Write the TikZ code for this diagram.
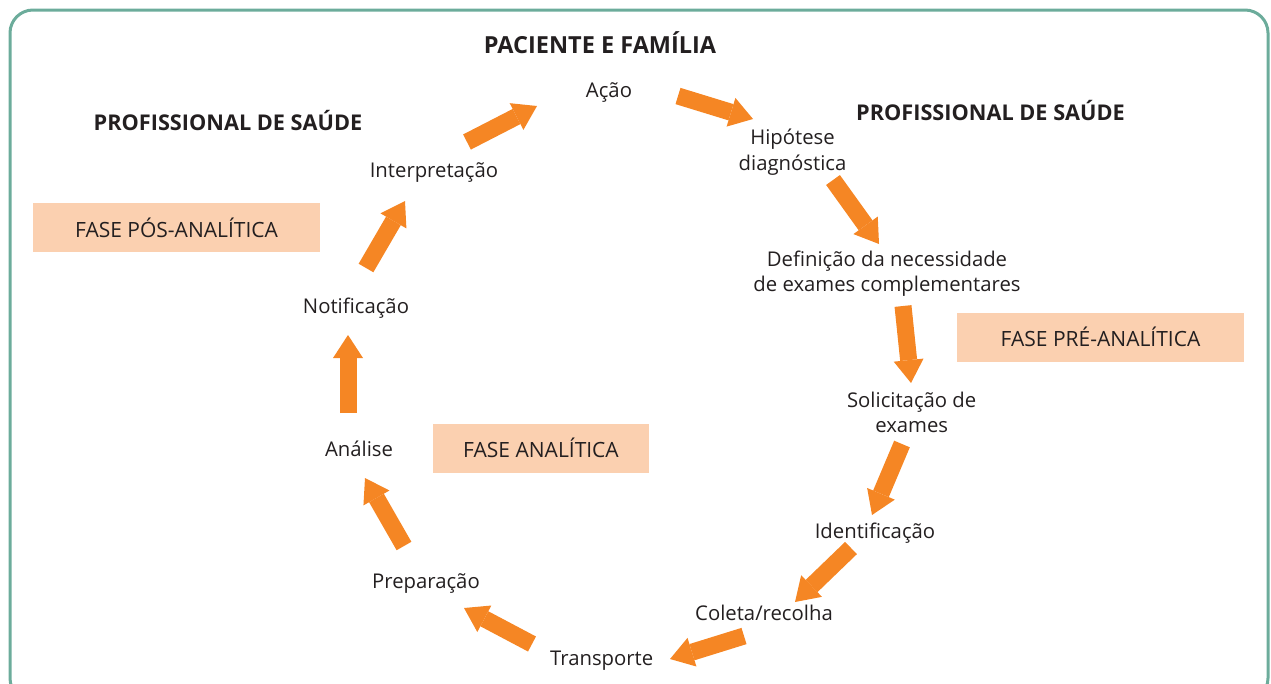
\documentclass[tikz,border=0pt]{standalone}
\usepackage{fontspec}
\setmainfont{Open Sans}
\usetikzlibrary{arrows.meta}
\definecolor{arrowc}{RGB}{245,134,36}
\definecolor{phasec}{RGB}{251,208,176}
\definecolor{framec}{RGB}{108,172,155}
\definecolor{textc}{RGB}{35,31,32}
\tikzset{
  lbl/.style={anchor=base, inner sep=0pt, text=textc, font=\fontsize{20.3}{25.5}\selectfont, align=center},
  head/.style={anchor=base, inner sep=0pt, text=textc, font=\fontsize{21.7}{24}\selectfont\bfseries},
  phase/.style={fill=phasec, inner sep=0pt, text=textc, font=\fontsize{21}{24}\selectfont},
  flow/.style={draw=arrowc, line width=17pt, -{Triangle[length=23pt,width=30pt,line width=0pt]}}
}
\begin{document}
\begin{tikzpicture}[x=1pt,y=-1pt]
\useasboundingbox (0,0) rectangle (1271,683);
\begin{scope}
\clip (0,0) rectangle (1271,683);
\draw[framec, line width=3pt, rounded corners=23pt] (10,10) rectangle (1268,701);
\end{scope}

% headings
\node[head, font=\fontsize{23.5}{26}\selectfont\bfseries] (pac) at (600,53) {PACIENTE E FAMÍLIA};
\node[head] (profL) at (228,130) {PROFISSIONAL DE SAÚDE};
\node[head] (profR) at (990.5,120) {PROFISSIONAL DE SAÚDE};

% phase boxes
\node[phase, minimum width=287pt, minimum height=49pt] (pos) at (176.5,227.5) {FASE PÓS-ANALÍTICA};
\node[phase, minimum width=287pt, minimum height=49pt] (pre) at (1100.5,337.2) {FASE PRÉ-ANALÍTICA};
\node[phase, minimum width=216pt, minimum height=49pt] (ana) at (541,448) {FASE ANALÍTICA};

% step labels (anchor = baseline of last line)
\node[lbl] (acao) at (609,97) {Ação};
\node[lbl] (hip) at (792.5,170) {Hipótese\\diagnóstica};
\node[lbl] (def) at (887,291.7) {Definição da necessidade\\de exames complementares};
\node[lbl] (sol) at (911.7,432.7) {Solicitação de\\exames};
\node[lbl] (ide) at (875,538) {Identificação};
\node[lbl] (col) at (764,620.7) {Coleta/recolha};
\node[lbl] (tra) at (601.7,665) {Transporte};
\node[lbl] (pre2) at (426,588) {Preparação};
\node[lbl] (anl) at (359,456.7) {Análise};
\node[lbl] (not) at (356,313) {Notificação};
\node[lbl] (int) at (434,177) {Interpretação};

% arrow end points
\coordinate (a1s) at (678,96);   \coordinate (a1e) at (753,119);
\coordinate (a2s) at (833,180);  \coordinate (a2e) at (879,244);
\coordinate (a3s) at (903,306);  \coordinate (a3e) at (911,383);
\coordinate (a4s) at (902,444);  \coordinate (a4e) at (872,515);
\coordinate (a5s) at (851,548);  \coordinate (a5e) at (795,602);
\coordinate (a6s) at (744,636);  \coordinate (a6e) at (670,659);
\coordinate (a7s) at (532,644);  \coordinate (a7e) at (464,608);
\coordinate (a8s) at (404,546);  \coordinate (a8e) at (365,478);
\coordinate (a9s) at (348,413);  \coordinate (a9e) at (348,335);
\coordinate (a10s) at (366,268); \coordinate (a10e) at (405,201);
\coordinate (a11s) at (467,142); \coordinate (a11e) at (537,106);

\draw[flow] (a1s) -- (a1e);
\draw[flow] (a2s) -- (a2e);
\draw[flow] (a3s) -- (a3e);
\draw[flow] (a4s) -- (a4e);
\draw[flow] (a5s) -- (a5e);
\draw[flow] (a6s) -- (a6e);
\draw[flow] (a7s) -- (a7e);
\draw[flow] (a8s) -- (a8e);
\draw[flow] (a9s) -- (a9e);
\draw[flow] (a10s) -- (a10e);
\draw[flow] (a11s) -- (a11e);
\end{tikzpicture}
\end{document}
